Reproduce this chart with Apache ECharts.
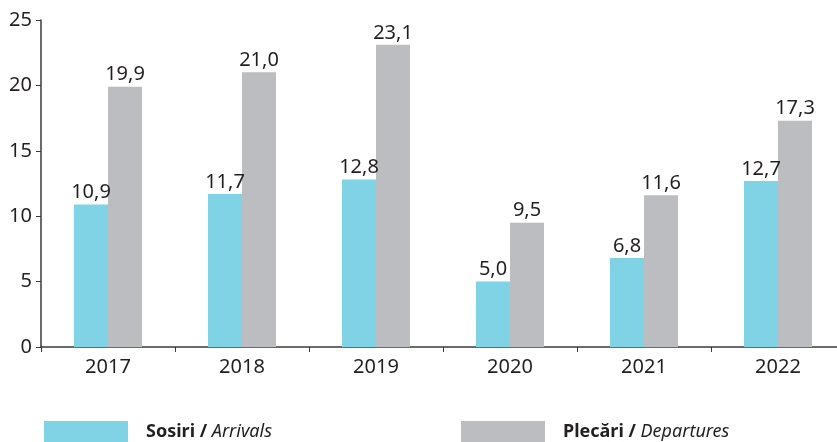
<!DOCTYPE html>
<html>
<head>
<meta charset="utf-8">
<script src="https://cdn.jsdelivr.net/npm/echarts@6/dist/echarts.min.js"></script>
<style>
  html, body { margin: 0; padding: 0; background: #fff; }
  #chart { width: 837px; height: 442px; }
</style>
</head>
<body>
<div id="chart"></div>
<script>
const years = ['2017', '2018', '2019', '2020', '2021', '2022'];
const arrivals = [10.9, 11.7, 12.8, 5.0, 6.8, 12.7];
const departures = [19.9, 21.0, 23.1, 9.5, 11.6, 17.3];
const yTicks = { min: 0, max: 25, interval: 5 };

const textColor = '#231f20';
const font = 'Noto Sans';

const fmt = p => p.value.toFixed(1).replace('.', ',');

const chart = echarts.init(document.getElementById('chart'), null, { renderer: 'canvas' });

function legendFor(name, bold, italic, left) {
  return {
    data: [name],
    left: left,
    top: 421,
    padding: 0,
    itemWidth: 84,
    itemHeight: 21,
    icon: 'rect',
    selectedMode: false,
    formatter: () => '{b|' + bold + '} {i|' + italic + '}',
    textStyle: {
      fontFamily: font,
      fontSize: 18,
      color: textColor,
      rich: {
        b: { fontWeight: 'bold', fontSize: 18, fontFamily: font, color: textColor, padding: [0, 0, 0, 13] },
        i: { fontStyle: 'italic', fontSize: 18, fontFamily: font, color: textColor }
      }
    }
  };
}

chart.setOption({
  animation: false,
  textStyle: { fontFamily: font },
  // plot area runs a little past the right edge, so the x axis line reaches the border
  grid: { left: 41, width: 804, top: 20, bottom: 95, outerBoundsMode: 'none', containLabel: false },
  legend: [
    legendFor('Sosiri', 'Sosiri /', 'Arrivals', 44),
    legendFor('Plecări', 'Plecări /', 'Departures', 461)
  ],
  xAxis: {
    type: 'category',
    data: years,
    axisLine: { lineStyle: { color: '#3a3a3a', width: 1.5 } },
    axisTick: { show: true, alignWithLabel: false, length: 5, lineStyle: { color: '#3a3a3a' } },
    axisLabel: { fontSize: 20, color: textColor, fontFamily: font, margin: 10 }
  },
  yAxis: {
    type: 'value',
    min: yTicks.min,
    max: yTicks.max,
    interval: yTicks.interval,
    splitLine: { show: false },
    axisLine: { show: true, lineStyle: { color: '#3a3a3a', width: 1.5 } },
    axisTick: { show: true, length: 5, lineStyle: { color: '#3a3a3a' } },
    axisLabel: { fontSize: 20, color: textColor, fontFamily: font, margin: 9 }
  },
  series: [
    {
      name: 'Sosiri',
      type: 'bar',
      data: arrivals,
      barWidth: 34,
      barGap: '0%',
      itemStyle: { color: '#80d3e5' },
      label: { show: true, position: 'top', distance: 2, fontSize: 20, color: textColor, fontFamily: font, formatter: fmt }
    },
    {
      name: 'Plecări',
      type: 'bar',
      data: departures,
      barWidth: 34,
      barGap: '0%',
      itemStyle: { color: '#bcbdc1' },
      label: { show: true, position: 'top', distance: 2, fontSize: 20, color: textColor, fontFamily: font, formatter: fmt }
    }
  ]
});
</script>
</body>
</html>
